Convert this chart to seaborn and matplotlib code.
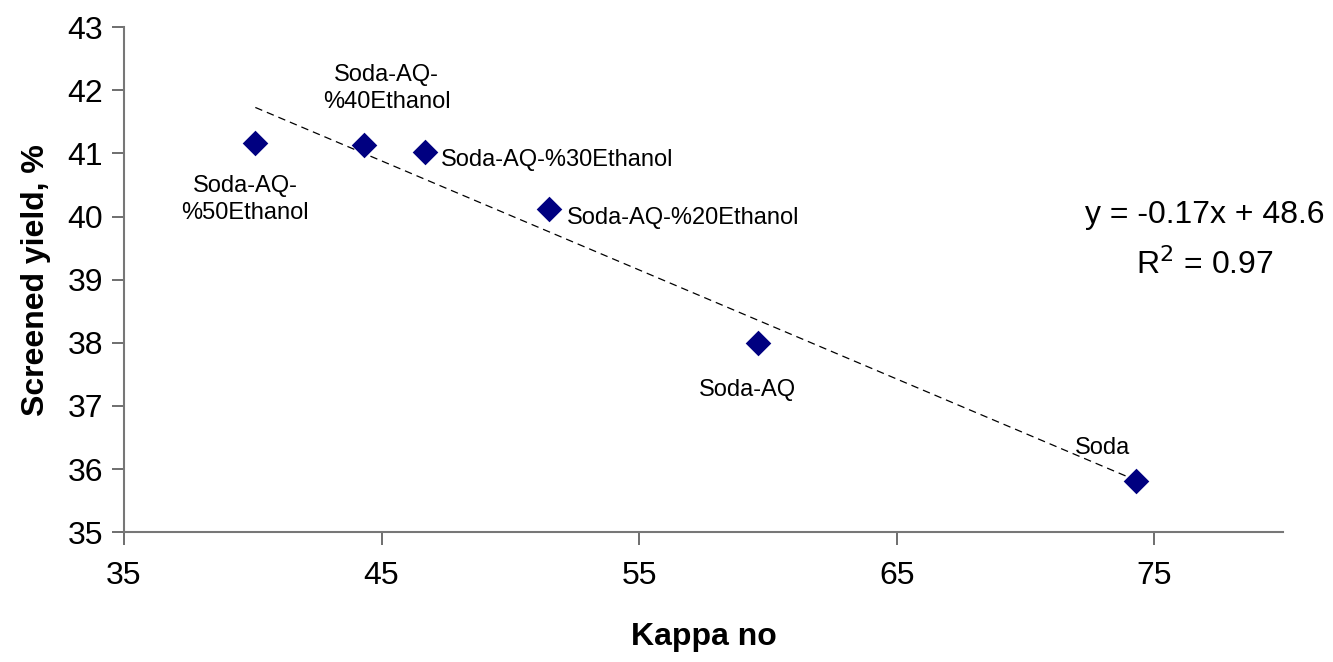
import numpy as np
import pandas as pd
import matplotlib
matplotlib.use("Agg")
import matplotlib.pyplot as plt
import seaborn as sns

# Data
labels = ["Soda-AQ-\n%50Ethanol", "Soda-AQ-\n%40Ethanol", "Soda-AQ-%30Ethanol",
          "Soda-AQ-%20Ethanol", "Soda-AQ", "Soda"]
kappa = [40.1, 44.3, 46.7, 51.5, 59.6, 74.3]
yield_pct = [41.17, 41.14, 41.03, 40.12, 37.99, 35.81]
label_x = [39.7, 45.2, 47.3, 52.2, 59.2, 73.0]
label_y = [40.27, 42.03, 40.89, 39.97, 37.26, 36.34]
label_ha = ["center", "center", "left", "left", "center", "center"]
x_ticks = [35, 45, 55, 65, 75]
y_ticks = [35, 36, 37, 38, 39, 40, 41, 42, 43]

df = pd.DataFrame({"Kappa no": kappa, "Screened yield, %": yield_pct})

sns.set_theme(style="white")
plt.rcParams['font.family'] = ['Liberation Sans', 'DejaVu Sans']

fig = plt.figure(figsize=(13.33, 6.62), dpi=100)
ax = fig.add_axes([0.093, 0.196, 0.8695, 0.763])

# Trendline from least squares fit
coef = np.polyfit(kappa, yield_pct, 1)
xs = np.array([min(kappa), max(kappa)])
ax.plot(xs, np.polyval(coef, xs), color="black", lw=0.9, ls=(0, (6, 4)), zorder=1)

sns.scatterplot(data=df, x="Kappa no", y="Screened yield, %", marker="D", s=170,
                color="#000080", edgecolor="#000080", linewidth=0, ax=ax, zorder=3)

for lx, ly, t, ha in zip(label_x, label_y, labels, label_ha):
    ax.text(lx, ly, t, ha=ha, va="center", fontsize=17, color="black",
            linespacing=1.3)

ax.set_xlim(35, 80)
ax.set_ylim(35, 43)
ax.set_xticks(x_ticks)
ax.set_yticks(y_ticks)
ax.tick_params(axis="both", bottom=True, left=True, labelsize=23, labelcolor="black",
               length=9, width=1.2, direction="out", color="#555555")
ax.tick_params(axis="x", pad=12)
ax.tick_params(axis="y", pad=6)
for s in ["top", "right"]:
    ax.spines[s].set_visible(False)
for s in ["left", "bottom"]:
    ax.spines[s].set_color("#777777")
    ax.spines[s].set_linewidth(1.5)

ax.set_xlabel("Kappa no", fontsize=23, fontweight="bold", labelpad=22, color="black")
ax.set_ylabel("Screened yield, %", fontsize=23, fontweight="bold", labelpad=12, color="black")

fig.text(0.9035, 0.675, "y = -0.17x + 48.6", ha="center", va="center", fontsize=23,
         color="black")
fig.text(0.904, 0.600, "R$^2$ = 0.97", ha="center", va="center", fontsize=23,
         color="black")

fig.savefig("out.png", dpi=100)
